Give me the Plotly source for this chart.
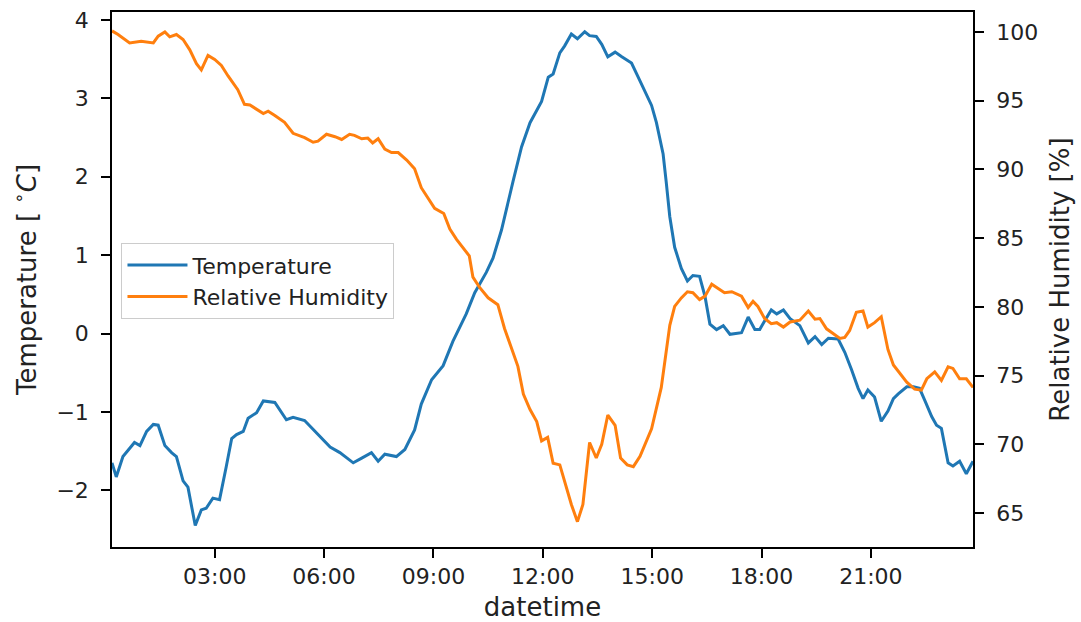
import pandas as pd
import plotly.graph_objects as go

day = "2019-01-01 "

temp_times = ["00:11","00:18","00:29","00:37","00:48","00:57","01:08","01:19","01:27","01:38",
              "01:49","01:57","02:08","02:16","02:23","02:28","02:38","02:46","02:57","03:08",
              "03:19","03:28","03:36","03:47","03:55","04:09","04:20","04:39","04:58","05:09",
              "05:28","05:45","06:10","06:26","06:48","07:02","07:18","07:29","07:40","07:59",
              "08:13","08:29","08:40","08:57","09:16","09:32","09:54","10:08","10:27","10:38",
              "10:52","11:11","11:25","11:39","11:58","12:09","12:17","12:28","12:36","12:47",
              "12:57","13:09","13:17","13:28","13:37","13:47","13:59","14:10","14:26","14:37",
              "14:48","14:59","15:07","15:18","15:23","15:29","15:37","15:48","15:58","16:07",
              "16:18","16:27","16:35","16:46","16:57","17:08","17:27","17:38","17:49","17:57",
              "18:05","18:16","18:25","18:36","18:47","19:03","19:17","19:28","19:39","19:50",
              "20:06","20:17","20:28","20:39","20:47","20:55","21:06","21:17","21:28","21:37",
              "21:45","21:59","22:10","22:20","22:29","22:40","22:48","22:56","23:07","23:15",
              "23:26","23:37","23:48"]
temperature = [-1.65,-1.83,-1.57,-1.50,-1.39,-1.43,-1.25,-1.16,-1.17,-1.43,
               -1.52,-1.57,-1.88,-1.96,-2.27,-2.45,-2.25,-2.23,-2.10,-2.12,
               -1.70,-1.34,-1.29,-1.25,-1.08,-1.01,-0.86,-0.88,-1.10,-1.07,
               -1.11,-1.25,-1.45,-1.52,-1.65,-1.59,-1.52,-1.63,-1.54,-1.57,
               -1.48,-1.23,-0.90,-0.59,-0.41,-0.10,0.25,0.52,0.78,0.96,
               1.32,1.94,2.38,2.69,2.96,3.27,3.31,3.58,3.67,3.82,
               3.76,3.85,3.80,3.79,3.69,3.53,3.59,3.53,3.45,3.27,
               3.09,2.91,2.69,2.29,1.94,1.49,1.10,0.83,0.67,0.74,
               0.73,0.47,0.12,0.05,0.10,-0.01,0.01,0.21,0.05,0.05,
               0.16,0.30,0.25,0.30,0.19,0.10,-0.12,-0.04,-0.14,-0.06,
               -0.07,-0.24,-0.46,-0.70,-0.83,-0.72,-0.81,-1.12,-0.99,-0.83,
               -0.77,-0.68,-0.68,-0.70,-0.86,-1.06,-1.17,-1.21,-1.65,-1.69,
               -1.63,-1.79,-1.63]

hum_times = ["00:11","00:21","00:40","00:59","01:19","01:27","01:38","01:46","01:57","02:08",
             "02:19","02:30","02:38","02:49","03:00","03:11","03:22","03:38","03:49","03:58",
             "04:20","04:28","04:39","04:55","05:09","05:28","05:42","05:50","06:04","06:18",
             "06:29","06:42","06:50","07:02","07:12","07:20","07:29","07:40","07:51","08:02",
             "08:16","08:29","08:40","08:51","09:02","09:17","09:27","09:38","09:49","09:59",
             "10:05","10:16","10:30","10:46","10:57","11:08","11:19","11:28","11:39","11:50",
             "11:58","12:08","12:17","12:28","12:39","12:47","12:57","13:06","13:17","13:28",
             "13:37","13:47","13:59","14:08","14:19","14:29","14:40","14:59","15:15","15:23",
             "15:29","15:37","15:48","15:58","16:07","16:18","16:27","16:38","16:49","16:59",
             "17:11","17:27","17:38","17:46","17:54","18:05","18:16","18:25","18:36","18:47",
             "19:03","19:17","19:28","19:36","19:47","19:58","20:09","20:17","20:25","20:36",
             "20:47","20:55","21:06","21:17","21:28","21:37","21:48","21:59","22:12","22:23",
             "22:32","22:45","22:56","23:07","23:15","23:26","23:37","23:48"]
humidity = [100.08,99.82,99.2,99.32,99.2,99.7,100.0,99.65,99.82,99.45,
            98.7,97.7,97.24,98.3,98.0,97.57,96.8,95.8,94.74,94.69,
            94.06,94.24,93.93,93.43,92.63,92.31,91.98,92.06,92.56,92.38,
            92.18,92.56,92.48,92.23,92.28,91.93,92.23,91.48,91.23,91.23,
            90.68,90.05,88.67,87.92,87.17,86.79,85.66,84.91,84.29,83.71,
            82.16,81.41,80.66,80.16,78.43,77.05,75.67,73.66,72.53,71.65,
            70.25,70.5,68.62,68.5,66.87,65.62,64.37,65.62,70.13,69.0,
            70.0,72.13,71.38,69.0,68.5,68.37,69.12,71.13,74.14,76.9,
            78.65,80.03,80.65,81.1,81.03,80.53,80.78,81.65,81.35,81.03,
            81.1,80.78,79.95,80.4,80.03,79.15,78.78,78.85,78.53,78.9,
            79.03,79.7,79.1,79.15,78.4,78.03,77.7,77.78,78.28,79.6,
            79.7,78.53,78.85,79.28,76.9,75.77,75.14,74.52,74.01,73.94,
            74.77,75.27,74.64,75.64,75.52,74.77,74.77,74.14]

tick_labels = ["03:00","06:00","09:00","12:00","15:00","18:00","21:00"]
temp_ticks = [-2, -1, 0, 1, 2, 3, 4]
temp_tick_text = ["\u22122", "\u22121", "0", "1", "2", "3", "4"]
hum_ticks = [65, 70, 75, 80, 85, 90, 95, 100]

t_x = pd.to_datetime([day + t for t in temp_times])
h_x = pd.to_datetime([day + t for t in hum_times])
tick_vals = pd.to_datetime([day + t for t in tick_labels])

FONT = "DejaVu Sans"
TXT = "#222222"

fig = go.Figure()
fig.add_trace(go.Scatter(x=t_x, y=temperature, mode="lines", name="Temperature",
                         line=dict(color="#1f77b4", width=3), yaxis="y"))
fig.add_trace(go.Scatter(x=h_x, y=humidity, mode="lines", name="Relative Humidity",
                         line=dict(color="#ff7f0e", width=3), yaxis="y2"))

axis_common = dict(showgrid=False, zeroline=False, showline=True, linecolor="black",
                   linewidth=1.5, ticks="outside", ticklen=9, tickwidth=1.5,
                   tickcolor="black", tickfont=dict(family=FONT, size=22, color=TXT),
                   automargin=False)

fig.update_layout(
    width=1081, height=622,
    margin=dict(l=112, r=108, t=12, b=75),
    paper_bgcolor="white", plot_bgcolor="white",
    font=dict(family=FONT, color=TXT),
    xaxis=dict(type="date", range=[day + "00:11", day + "23:48"],
               tickvals=tick_vals, ticktext=tick_labels, mirror=True,
               ticklabelstandoff=0,
               title=dict(text="datetime", font=dict(family=FONT, size=26, color=TXT), standoff=10),
               **axis_common),
    yaxis=dict(range=[-2.724, 4.102], tickvals=temp_ticks, ticktext=temp_tick_text,
               ticklabelstandoff=8,
               title=dict(text="Temperature [ <sup>\u2218</sup><i>C</i>]",
                          font=dict(family=FONT, size=26, color=TXT), standoff=12),
               **axis_common),
    yaxis2=dict(range=[62.526, 101.455], tickvals=hum_ticks, overlaying="y", side="right",
                ticklabelstandoff=8,
                title=dict(text="Relative Humidity [%]", font=dict(family=FONT, size=26, color=TXT),
                           standoff=14),
                **axis_common),
    legend=dict(x=0.011, y=0.568, xanchor="left", yanchor="top",
                bgcolor="rgba(255,255,255,0.8)", bordercolor="#cccccc", borderwidth=1,
                font=dict(family=FONT, size=22, color=TXT), itemwidth=60),
    showlegend=True,
)

fig.write_html("out.html", config={"displayModeBar": False},
               post_script="document.body.style.margin='0px';")
